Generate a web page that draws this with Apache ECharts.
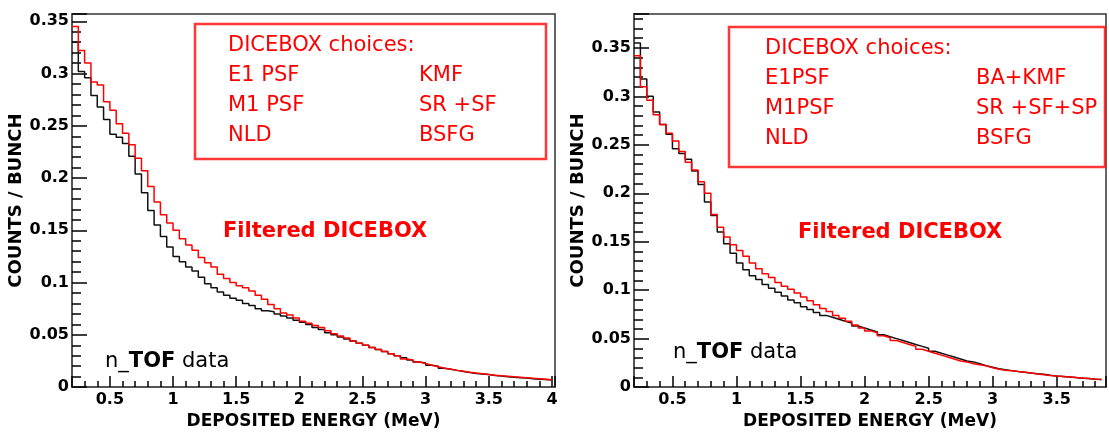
<!DOCTYPE html>
<html>
<head>
<meta charset="utf-8">
<script src="https://cdn.jsdelivr.net/npm/echarts@6/dist/echarts.min.js"></script>
<style>
  html, body { margin: 0; padding: 0; background: #fff; }
  #chart { width: 1109px; height: 435px; }
</style>
</head>
<body>
<div id="chart"></div>
<script>
// lower bin edges, MeV
const binEdges = [
  0.20, 0.25, 0.30, 0.35, 0.40, 0.45, 0.50, 0.55, 0.60, 0.65,
  0.70, 0.75, 0.80, 0.85, 0.90, 0.95, 1.00, 1.05, 1.10, 1.15,
  1.20, 1.25, 1.30, 1.35, 1.40, 1.45, 1.50, 1.55, 1.60, 1.65,
  1.70, 1.75, 1.80, 1.85, 1.90, 1.95, 2.00, 2.05, 2.10, 2.15,
  2.20, 2.25, 2.30, 2.35, 2.40, 2.45, 2.50, 2.55, 2.60, 2.65,
  2.70, 2.75, 2.80, 2.85, 2.90, 2.95, 3.00, 3.05, 3.10, 3.15,
  3.20, 3.25, 3.30, 3.35, 3.40, 3.45, 3.50, 3.55, 3.60, 3.65,
  3.70, 3.75, 3.80, 3.85, 3.90, 3.95, 4.00
]

// left panel (KMF, SR+SF, BSFG)
const leftTof = [
  0.330, 0.302, 0.296, 0.279, 0.268, 0.256, 0.242, 0.239, 0.233, 0.221,
  0.204, 0.186, 0.169, 0.155, 0.144, 0.134, 0.125, 0.120, 0.115, 0.111,
  0.105, 0.099, 0.095, 0.091, 0.088, 0.085, 0.083, 0.080, 0.078, 0.075,
  0.073, 0.072, 0.070, 0.068, 0.066, 0.064, 0.062, 0.060, 0.057, 0.055,
  0.052, 0.050, 0.048, 0.046, 0.044, 0.042, 0.040, 0.038, 0.036, 0.034,
  0.032, 0.030, 0.028, 0.026, 0.024, 0.023, 0.021, 0.020, 0.018, 0.017,
  0.016, 0.015, 0.014, 0.013, 0.0125, 0.012, 0.0112, 0.0106, 0.0100, 0.0095,
  0.0090, 0.0086, 0.0080, 0.0076, 0.0072, 0.0068, 0.0065
]
const leftDicebox = [
  0.345, 0.322, 0.310, 0.292, 0.289, 0.273, 0.265, 0.252, 0.243, 0.232,
  0.219, 0.207, 0.192, 0.177, 0.165, 0.157, 0.150, 0.142, 0.136, 0.131,
  0.124, 0.119, 0.115, 0.108, 0.104, 0.100, 0.097, 0.095, 0.092, 0.088,
  0.084, 0.079, 0.075, 0.071, 0.069, 0.066, 0.063, 0.061, 0.059, 0.057,
  0.054, 0.051, 0.049, 0.047, 0.044, 0.042, 0.040, 0.038, 0.036, 0.034,
  0.032, 0.030, 0.027, 0.026, 0.024, 0.0225, 0.021, 0.0195, 0.018, 0.017,
  0.016, 0.0152, 0.0143, 0.0135, 0.0127, 0.012, 0.0114, 0.0108, 0.0104, 0.0098,
  0.0094, 0.009, 0.0084, 0.008, 0.0075, 0.007, 0.0066
]

// right panel (BA+KMF, SR+SF+SP, BSFG)
const rightTof = [
  0.355, 0.318, 0.300, 0.284, 0.271, 0.261, 0.246, 0.241, 0.235, 0.223,
  0.209, 0.191, 0.177, 0.160, 0.148, 0.138, 0.128, 0.121, 0.115, 0.111,
  0.106, 0.102, 0.098, 0.094, 0.090, 0.087, 0.083, 0.080, 0.077, 0.074,
  0.072, 0.070, 0.068, 0.066, 0.063, 0.061, 0.059, 0.057, 0.054, 0.052,
  0.050, 0.048, 0.046, 0.044, 0.042, 0.040, 0.037, 0.035, 0.033, 0.031,
  0.029, 0.027, 0.026, 0.024, 0.022, 0.0205, 0.019, 0.018, 0.017, 0.016,
  0.0154, 0.0145, 0.0138, 0.0132, 0.0122, 0.0115, 0.011, 0.0104, 0.0098, 0.0092,
  0.0088, 0.0082, 0.0078, 0.0075
]
const rightDicebox = [
  0.342, 0.310, 0.296, 0.281, 0.271, 0.262, 0.254, 0.243, 0.232, 0.224,
  0.212, 0.200, 0.178, 0.165, 0.155, 0.147, 0.141, 0.135, 0.128, 0.122,
  0.117, 0.113, 0.108, 0.104, 0.101, 0.097, 0.093, 0.089, 0.085, 0.081,
  0.078, 0.074, 0.071, 0.068, 0.064, 0.061, 0.058, 0.056, 0.053, 0.051,
  0.048, 0.046, 0.044, 0.042, 0.039, 0.037, 0.035, 0.033, 0.031, 0.029,
  0.027, 0.026, 0.024, 0.023, 0.022, 0.020, 0.0185, 0.0175, 0.0168, 0.016,
  0.0154, 0.0145, 0.0135, 0.0127, 0.012, 0.0114, 0.011, 0.0104, 0.0098, 0.0093,
  0.0088, 0.0083, 0.0079, 0.0075
]

const leftChoices = [['E1 PSF', 'KMF'], ['M1 PSF', 'SR +SF'], ['NLD', 'BSFG']]
const rightChoices = [['E1PSF', 'BA+KMF'], ['M1PSF', 'SR +SF+SP'], ['NLD', 'BSFG']]

const tickColor = '#000'

function pairs(values) {
  return values.map((v, i) => [binEdges[i], v])
}

function onStep(v, step) {
  const k = v / step
  return Math.abs(k - Math.round(k)) < 1e-6
}

function boldText(size) {
  return { fontFamily: 'DejaVu Sans', fontWeight: 'bold', fontSize: size, color: '#000' }
}

function mainX(grid, max) {
  return {
    gridIndex: grid, type: 'value', position: 'bottom', min: 0.2, max: max, splitNumber: 8,
    axisLine: { show: true, onZero: false, lineStyle: { color: '#555', width: 2 } },
    axisTick: { show: true, inside: true, length: 11, lineStyle: { color: tickColor, width: 1.5 } },
    axisLabel: {
      fontFamily: 'DejaVu Sans', fontWeight: 'bold', fontSize: 16, color: '#000', margin: 5,
      formatter: v => onStep(v, 0.5) ? String(+v.toFixed(2)) : ''
    },
    splitLine: { show: false },
    name: 'DEPOSITED ENERGY (MeV)', nameLocation: 'middle', nameGap: 22,
    nameTextStyle: boldText(17)
  }
}

function minorX(grid, max) {
  return {
    gridIndex: grid, type: 'value', position: 'bottom', min: 0.2, max: max, interval: 0.1,
    axisLine: { show: false },
    axisTick: { show: true, inside: true, length: 6, lineStyle: { color: tickColor, width: 1.5 } },
    axisLabel: { show: false }, splitLine: { show: false }
  }
}

function mainY(grid, max, gap) {
  return {
    gridIndex: grid, type: 'value', position: 'left', min: 0, max: max, interval: 0.05,
    axisLine: { show: true, onZero: false, lineStyle: { color: '#555', width: 2 } },
    axisTick: { show: true, inside: true, length: 15, lineStyle: { color: tickColor, width: 1.5 } },
    axisLabel: {
      fontFamily: 'DejaVu Sans', fontWeight: 'bold', fontSize: 16, color: '#000', margin: 3,
      formatter: v => onStep(v, 0.05) ? String(+v.toFixed(2)) : ''
    },
    splitLine: { show: false },
    name: 'COUNTS / BUNCH', nameLocation: 'middle', nameGap: gap, nameRotate: 90,
    nameTextStyle: boldText(18)
  }
}

function minorY(grid, max) {
  return {
    gridIndex: grid, type: 'value', position: 'left', min: 0, max: max, interval: 0.01,
    axisLine: { show: false },
    axisTick: { show: true, inside: true, length: 9, lineStyle: { color: tickColor, width: 1.5 } },
    axisLabel: { show: false }, splitLine: { show: false }
  }
}

function hist(name, values, grid, color) {
  return {
    name: name, type: 'line', step: 'end', xAxisIndex: grid, yAxisIndex: grid,
    data: pairs(values), showSymbol: false,
    lineStyle: { color: color, width: 1.5 }
  }
}

function choicesBox(x, y, w, h, textX, colX, rows) {
  const font = '21px "DejaVu Sans"'
  const items = [
    { type: 'rect', shape: { x: x, y: y, width: w, height: h },
      style: { fill: null, stroke: 'rgba(255,20,20,0.85)', lineWidth: 2.5 } },
    { type: 'text', style: { text: 'DICEBOX choices:', x: textX, y: y + 22, font: font, fill: '#f00', verticalAlign: 'middle' } }
  ]
  rows.forEach((r, i) => {
    const ty = y + 52 + i * 30
    items.push({ type: 'text', style: { text: r[0], x: textX, y: ty, font: font, fill: '#f00', verticalAlign: 'middle' } })
    items.push({ type: 'text', style: { text: r[1], x: colX, y: ty, font: font, fill: '#f00', verticalAlign: 'middle' } })
  })
  return items
}

function label(x, y, text, color) {
  return { type: 'text', style: { text: text, x: x, y: y, font: 'bold 21px "DejaVu Sans"', fill: color, verticalAlign: 'middle' } }
}

function tofLabel(x, y) {
  return {
    type: 'text',
    style: {
      text: '{n|n_}{b|TOF}{n| data}', x: x, y: y, verticalAlign: 'middle',
      rich: {
        n: { fontFamily: 'DejaVu Sans', fontSize: 21, color: '#000' },
        b: { fontFamily: 'DejaVu Sans', fontSize: 21, fontWeight: 'bold', color: '#000' }
      }
    }
  }
}

const chart = echarts.init(document.getElementById('chart'))
chart.setOption({
  animation: false,
  grid: [
    { left: 72, top: 14, width: 483, height: 380, show: true, borderColor: '#333', borderWidth: 1.5 },
    { left: 634, top: 14, width: 474, height: 375, show: true, borderColor: '#333', borderWidth: 1.5 }
  ],
  xAxis: [mainX(0, 4.024), mainX(1, 3.885), minorX(0, 4.024), minorX(1, 3.885)],
  yAxis: [mainY(0, 0.357, 41), mainY(1, 0.385, 42), minorY(0, 0.357), minorY(1, 0.385)],
  series: [
    hist('n_TOF data', leftTof, 0, '#111'),
    hist('Filtered DICEBOX', leftDicebox, 0, '#f00'),
    hist('n_TOF data', rightTof, 1, '#111'),
    hist('Filtered DICEBOX', rightDicebox, 1, '#f00')
  ],
  graphic: [].concat(
    choicesBox(195, 24, 351, 135, 228, 419, leftChoices),
    choicesBox(729, 27, 376, 140, 765, 976, rightChoices),
    label(223, 232, 'Filtered DICEBOX', '#f00'),
    label(798, 233, 'Filtered DICEBOX', '#f00'),
    tofLabel(105, 362),
    tofLabel(673, 353)
  )
})
</script>
</body>
</html>
